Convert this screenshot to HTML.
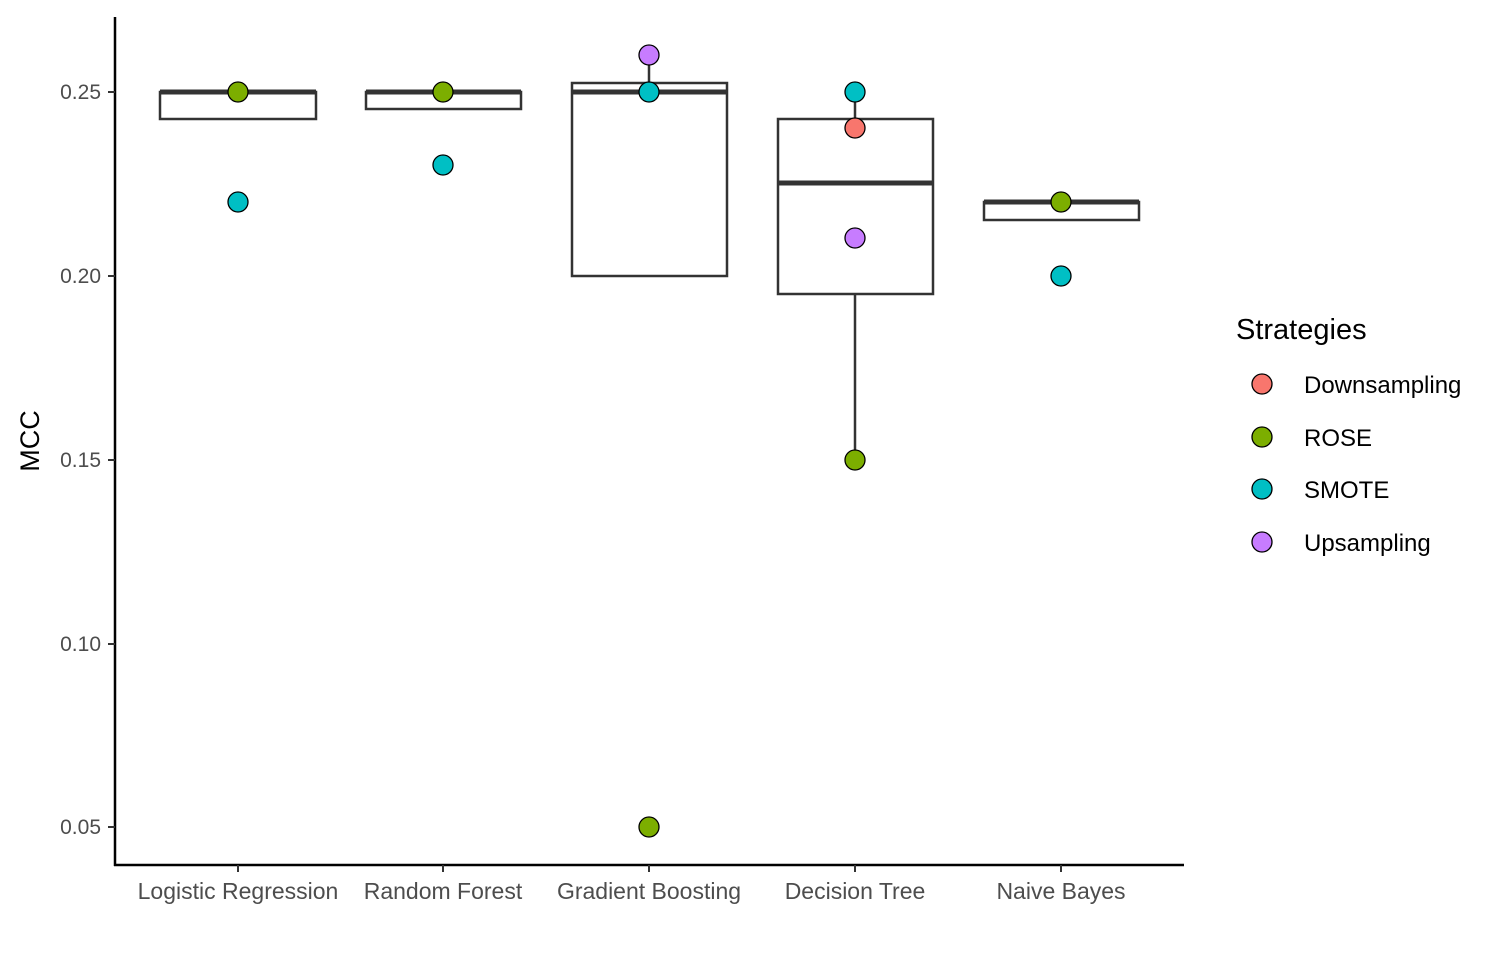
<!DOCTYPE html>
<html><head><meta charset="utf-8"><style>html,body{margin:0;padding:0;background:#fff}</style></head>
<body>
<svg width="1492" height="958" xmlns="http://www.w3.org/2000/svg" font-family="Liberation Sans, sans-serif">
<rect width="1492" height="958" fill="#fff"/>
<g stroke="#000" stroke-width="2.5" fill="none">
<line x1="115" y1="17" x2="115" y2="866"/>
<line x1="114" y1="865" x2="1184" y2="865"/>
</g>
<g stroke="#333" stroke-width="2">
<line x1="108" y1="92" x2="115" y2="92"/><line x1="108" y1="276" x2="115" y2="276"/>
<line x1="108" y1="460" x2="115" y2="460"/><line x1="108" y1="644" x2="115" y2="644"/>
<line x1="108" y1="827" x2="115" y2="827"/>
<line x1="238" y1="865" x2="238" y2="872"/><line x1="443" y1="865" x2="443" y2="872"/>
<line x1="649" y1="865" x2="649" y2="872"/><line x1="855" y1="865" x2="855" y2="872"/>
<line x1="1061" y1="865" x2="1061" y2="872"/>
</g>
<g fill="#4d4d4d" font-size="21" text-anchor="end">
<text x="101" y="99">0.25</text><text x="101" y="283">0.20</text><text x="101" y="467">0.15</text>
<text x="101" y="651">0.10</text><text x="101" y="834">0.05</text>
</g>
<g fill="#4d4d4d" font-size="23" text-anchor="middle">
<text x="238" y="899">Logistic Regression</text><text x="443" y="899">Random Forest</text>
<text x="649" y="899">Gradient Boosting</text><text x="855" y="899">Decision Tree</text>
<text x="1061" y="899">Naive Bayes</text>
</g>
<text transform="translate(39,441) rotate(-90)" font-size="27" text-anchor="middle" fill="#000">MCC</text>
<g stroke="#333" stroke-width="2.5" fill="#fff">
<rect x="160" y="92" width="156" height="27"/>
<rect x="366" y="92" width="155" height="17"/>
<line x1="649" y1="55" x2="649" y2="83"/>
<rect x="572" y="83" width="155" height="193"/>
<line x1="855" y1="92" x2="855" y2="119"/><line x1="855" y1="294" x2="855" y2="460"/>
<rect x="778" y="119" width="155" height="175"/>
<rect x="984" y="202" width="155" height="18"/>
</g>
<g stroke="#333" stroke-width="5">
<line x1="160" y1="92" x2="316" y2="92"/><line x1="366" y1="92" x2="521" y2="92"/>
<line x1="572" y1="92" x2="727" y2="92"/><line x1="778" y1="183" x2="933" y2="183"/>
<line x1="984" y1="202" x2="1139" y2="202"/>
</g>
<g stroke="#000" stroke-width="1.3">
<circle cx="238" cy="202" r="10" fill="#00BFC4"/><circle cx="238" cy="92" r="10" fill="#7CAE00"/>
<circle cx="443" cy="165" r="10" fill="#00BFC4"/><circle cx="443" cy="92" r="10" fill="#7CAE00"/>
<circle cx="649" cy="55" r="10" fill="#C77CFF"/><circle cx="649" cy="92" r="10" fill="#00BFC4"/>
<circle cx="649" cy="827" r="10" fill="#7CAE00"/>
<circle cx="855" cy="92" r="10" fill="#00BFC4"/><circle cx="855" cy="128" r="10" fill="#F8766D"/>
<circle cx="855" cy="238" r="10" fill="#C77CFF"/><circle cx="855" cy="460" r="10" fill="#7CAE00"/>
<circle cx="1061" cy="202" r="10" fill="#7CAE00"/><circle cx="1061" cy="276" r="10" fill="#00BFC4"/>
<circle cx="1262" cy="384" r="10" fill="#F8766D"/><circle cx="1262" cy="437" r="10" fill="#7CAE00"/>
<circle cx="1262" cy="489" r="10" fill="#00BFC4"/><circle cx="1262" cy="542" r="10" fill="#C77CFF"/>
</g>
<text x="1236" y="339" font-size="29" fill="#000">Strategies</text>
<g font-size="24" fill="#000">
<text x="1304" y="393">Downsampling</text><text x="1304" y="446">ROSE</text>
<text x="1304" y="498">SMOTE</text><text x="1304" y="551">Upsampling</text>
</g>
</svg>
</body></html>
